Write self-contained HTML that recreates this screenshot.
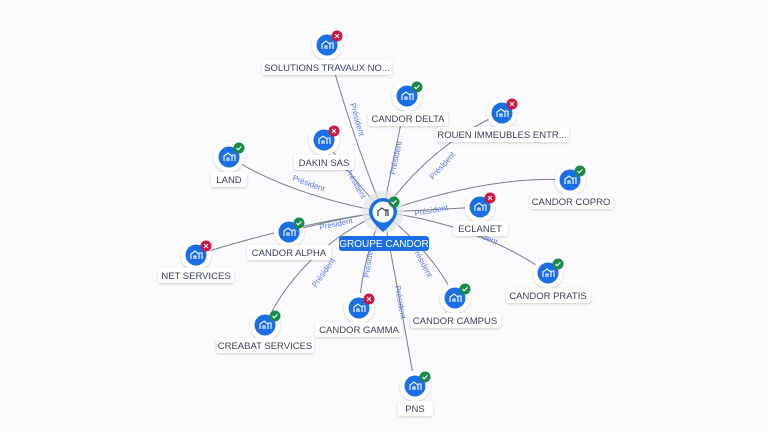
<!DOCTYPE html><html><head><meta charset="utf-8"><style>
html,body{margin:0;padding:0;background:#fbfbfd;width:768px;height:432px;overflow:hidden}
svg{display:block;font-family:"Liberation Sans",sans-serif}
.e{stroke:#7a7e8e;stroke-width:1;fill:none}
.p{fill:#5a78e0;font-size:8px}
.l{fill:#3a3f5c;font-size:9.5px;text-anchor:middle}
.lb{fill:#fff;filter:url(#sh)}
</style></head><body>
<svg width="768" height="432" viewBox="0 0 768 432">
<defs>
<filter id="sh" x="-20%" y="-40%" width="140%" height="180%"><feDropShadow dx="0" dy="1" stdDeviation="1.2" flood-color="#000" flood-opacity="0.18"/></filter>
<g id="n"><circle r="15" fill="#fff" filter="url(#sh)"/><circle r="10.5" fill="#1a6fe8"/><path d="M-5 4v-5l4-3 4 3v5M-2 4v-3h2v3M3 -2h3v6" stroke="#fff" stroke-width="1.1" fill="none"/></g>
<g id="ok"><circle r="5.5" fill="#1a8a4a"/><path d="M-2.5 0l1.7 1.8 3.2-3.4" stroke="#fff" stroke-width="1.1" fill="none"/></g>
<g id="ko"><circle r="5.5" fill="#d0163e"/><path d="M-2 -2l4 4M2 -2l-4 4" stroke="#fff" stroke-width="1.1"/></g>
</defs>
<g class="e">
<path d="M383 212Q350 130 327 45"/><path d="M383 212Q395 150 407 96"/><path d="M383 212Q430 145 502 113"/>
<path d="M383 212Q350 175 324 140"/><path d="M383 212Q290 195 229 157"/><path d="M383 212Q490 175 570 180"/>
<path d="M383 212Q430 210 480 207"/><path d="M383 212Q330 220 289 232"/><path d="M383 212Q290 225 196 255"/>
<path d="M383 212Q480 225 548 273"/><path d="M383 212Q435 255 455 298"/><path d="M383 212Q362 260 359 308"/>
<path d="M383 212Q300 250 265 325"/><path d="M383 212Q400 300 415 386"/>
</g>
<g class="p">
<text transform="translate(350 104) rotate(74)">Président</text>
<text transform="translate(395 175) rotate(-78)">Président</text>
<text transform="translate(433 180) rotate(-48)">Président</text>
<text transform="translate(345 170) rotate(60)">Président</text>
<text transform="translate(292 180) rotate(20)">Président</text>
<text transform="translate(415 216) rotate(-10)">Président</text>
<text transform="translate(320 230) rotate(-12)">Président</text>
<text transform="translate(465 232) rotate(22)">Président</text>
<text transform="translate(412 248) rotate(62)">Président</text>
<text transform="translate(369 278) rotate(-82)">Président</text>
<text transform="translate(316 288) rotate(-55)">Président</text>
<text transform="translate(395 286) rotate(80)">Président</text>
</g>
<circle cx="383" cy="212" r="21" fill="#e4e5ea" opacity="0.7"/>
<path d="M369 212a14 14 0 1 1 28 0q0 8 -14 20q-14 -12 -14 -20z" fill="#1a6fe8"/>
<circle cx="383" cy="212" r="10.5" fill="#fff"/>
<path d="M378 216v-5l4-3 4 3v5M385 210h3v6" stroke="#3a3f5c" stroke-width="1.2" fill="none"/>
<use href="#ok" x="394" y="202"/>
<rect x="339" y="236" width="90" height="15" rx="3" fill="#1a6fe8"/>
<text x="384" y="247" fill="#fff" font-size="10" text-anchor="middle">GROUPE CANDOR</text>
<g>
<use href="#n" x="327" y="45"/><use href="#ko" x="337" y="36"/>
<rect class="lb" x="262" y="60" width="130" height="15" rx="3"/><text class="l" x="327" y="71">SOLUTIONS TRAVAUX NO...</text>
<use href="#n" x="407" y="96"/><use href="#ok" x="417" y="87"/>
<rect class="lb" x="368" y="111" width="80" height="15" rx="3"/><text class="l" x="408" y="122">CANDOR DELTA</text>
<use href="#n" x="502" y="113"/><use href="#ko" x="512" y="104"/>
<rect class="lb" x="436" y="127" width="133" height="15" rx="3"/><text class="l" x="502" y="138">ROUEN IMMEUBLES ENTR...</text>
<use href="#n" x="324" y="140"/><use href="#ko" x="334" y="131"/>
<rect class="lb" x="294" y="155" width="60" height="15" rx="3"/><text class="l" x="324" y="166">DAKIN SAS</text>
<use href="#n" x="229" y="157"/><use href="#ok" x="239" y="148"/>
<rect class="lb" x="211" y="172" width="36" height="15" rx="3"/><text class="l" x="229" y="183">LAND</text>
<use href="#n" x="570" y="180"/><use href="#ok" x="580" y="171"/>
<rect class="lb" x="530" y="194" width="83" height="15" rx="3"/><text class="l" x="571" y="205">CANDOR COPRO</text>
<use href="#n" x="480" y="207"/><use href="#ko" x="490" y="198"/>
<rect class="lb" x="453" y="221" width="55" height="15" rx="3"/><text class="l" x="480" y="232">ECLANET</text>
<use href="#n" x="289" y="232"/><use href="#ok" x="299" y="223"/>
<rect class="lb" x="247" y="245" width="84" height="15" rx="3"/><text class="l" x="289" y="256">CANDOR ALPHA</text>
<use href="#n" x="196" y="255"/><use href="#ko" x="206" y="246"/>
<rect class="lb" x="158" y="268" width="76" height="15" rx="3"/><text class="l" x="196" y="279">NET SERVICES</text>
<use href="#n" x="548" y="273"/><use href="#ok" x="558" y="264"/>
<rect class="lb" x="506" y="288" width="85" height="15" rx="3"/><text class="l" x="548" y="299">CANDOR PRATIS</text>
<use href="#n" x="455" y="298"/><use href="#ok" x="465" y="289"/>
<rect class="lb" x="410" y="313" width="91" height="15" rx="3"/><text class="l" x="455" y="324">CANDOR CAMPUS</text>
<use href="#n" x="359" y="308"/><use href="#ko" x="369" y="299"/>
<rect class="lb" x="315" y="322" width="88" height="15" rx="3"/><text class="l" x="359" y="333">CANDOR GAMMA</text>
<use href="#n" x="265" y="325"/><use href="#ok" x="275" y="316"/>
<rect class="lb" x="216" y="338" width="98" height="15" rx="3"/><text class="l" x="265" y="349">CREABAT SERVICES</text>
<use href="#n" x="415" y="386"/><use href="#ok" x="425" y="377"/>
<rect class="lb" x="398" y="401" width="35" height="15" rx="3"/><text class="l" x="415" y="412">PNS</text>
</g>
</svg>
</body></html>
